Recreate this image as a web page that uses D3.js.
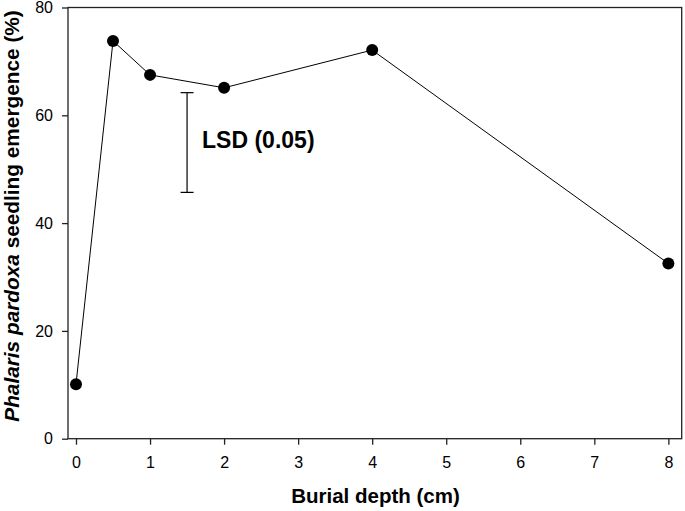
<html>
<head>
  <script src="https://d3js.org/d3.v7.min.js"></script>
  <style>
    body { margin: 0; background: #fff; }
    text { font-family: Arial, "Liberation Sans", sans-serif; fill: #000; }
    .axis text { font-size: 16px; }
    .axis path, .axis line { stroke: #222; stroke-width: 1.3px; }
    .title { font-size: 20.5px; font-weight: bold; }
  </style>
</head>
<body>
<script>
// burial depth (cm) and emergence (%)
var depths = [0, 0.5, 1, 2, 4, 8];
var emergence = [10.1, 73.8, 67.5, 65.1, 72.1, 32.5];
var xTicks = [0, 1, 2, 3, 4, 5, 6, 7, 8];
var yTicks = [0, 20, 40, 60, 80];
var lsdX = 1.5, lsdLow = 45.7, lsdHigh = 64.2;

var width = 685, height = 511;
var plotLeft = 68, plotRight = 681.7, plotTop = 7.5, plotBottom = 438.7;

var svg = d3.select("body").append("svg")
    .attr("width", width)
    .attr("height", height);

var x = d3.scaleLinear().domain([-0.108, 8.18]).range([plotLeft, plotRight]);
var y = d3.scaleLinear().domain([0, 80]).range([plotBottom, plotTop]);

// frame
svg.append("rect")
    .attr("x", plotLeft).attr("y", plotTop)
    .attr("width", plotRight - plotLeft).attr("height", plotBottom - plotTop)
    .attr("fill", "none").attr("stroke", "#222").attr("stroke-width", 1.3);

var xAxis = svg.append("g")
    .attr("class", "axis")
    .attr("transform", "translate(0," + plotBottom + ")")
    .call(d3.axisBottom(x).tickValues(xTicks).tickFormat(d3.format("d")).tickSize(6).tickPadding(12).tickSizeOuter(0));
xAxis.select(".domain").remove();

var yAxis = svg.append("g")
    .attr("class", "axis")
    .attr("transform", "translate(" + plotLeft + ",0)")
    .call(d3.axisLeft(y).tickValues(yTicks).tickSize(6).tickPadding(9).tickSizeOuter(0));
yAxis.select(".domain").remove();

// data line
var line = d3.line()
    .x(function(d, i) { return x(depths[i]); })
    .y(function(d) { return y(d); });

svg.append("path")
    .datum(emergence)
    .attr("d", line)
    .attr("fill", "none")
    .attr("stroke", "#000")
    .attr("stroke-width", 1);

svg.selectAll(".dot")
    .data(emergence)
    .enter()
    .append("circle")
    .attr("cx", function(d, i) { return x(depths[i]); })
    .attr("cy", function(d) { return y(d); })
    .attr("r", 6)
    .attr("fill", "#000");

// LSD bar
var lsd = svg.append("g").attr("stroke", "#000").attr("stroke-width", 1.2);
lsd.append("line")
    .attr("x1", x(lsdX)).attr("x2", x(lsdX))
    .attr("y1", y(lsdHigh)).attr("y2", y(lsdLow));
[lsdHigh, lsdLow].forEach(function(v) {
  lsd.append("line")
    .attr("x1", x(lsdX) - 6.5).attr("x2", x(lsdX) + 6.5)
    .attr("y1", y(v)).attr("y2", y(v));
});

svg.append("text")
    .attr("x", x(lsdX) + 15)
    .attr("y", 148)
    .style("font-size", "23px")
    .style("font-weight", "bold")
    .text("LSD (0.05)");

// axis titles
svg.append("text")
    .attr("class", "title")
    .attr("x", 375.5)
    .attr("y", 503)
    .attr("text-anchor", "middle")
    .text("Burial depth (cm)");

var yt = svg.append("text")
    .attr("class", "title")
    .style("font-size", "20.8px")
    .attr("transform", "translate(18.5,216) rotate(-90)")
    .attr("text-anchor", "middle");
yt.append("tspan").style("font-style", "italic").text("Phalaris pardoxa");
yt.append("tspan").text(" seedling emergence (%)");
</script>
</body>
</html>
